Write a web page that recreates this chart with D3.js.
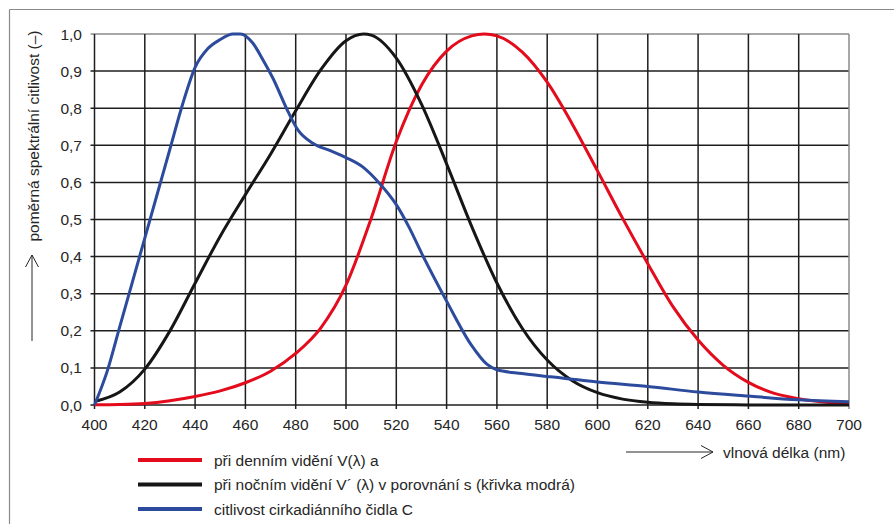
<!DOCTYPE html>
<html>
<head>
<meta charset="utf-8">
<script src="https://cdn.jsdelivr.net/npm/d3@7"></script>
<style>
  body { margin: 0; background: #fff; }
  svg { display: block; font-family: "Liberation Sans", Arial, sans-serif; }
</style>
</head>
<body>
<svg width="894" height="524"></svg>
<script>
// vlnové délky a hodnoty křivek
const redLambda = [400, 410, 420, 430, 440, 450, 460, 470, 480, 490, 500, 510, 520, 530, 540, 550, 555, 560, 570, 580, 590, 600, 610, 620, 630, 640, 650, 660, 670, 680, 690, 700];
const redValues = [0.0004, 0.0012, 0.004, 0.0116, 0.023, 0.038, 0.06, 0.091, 0.139, 0.208, 0.323, 0.503, 0.71, 0.862, 0.954, 0.995, 1.0, 0.995, 0.952, 0.87, 0.757, 0.631, 0.503, 0.381, 0.265, 0.175, 0.107, 0.061, 0.032, 0.017, 0.0082, 0.0041];

const blackLambda = [400, 410, 420, 430, 440, 450, 460, 470, 480, 490, 500, 507, 510, 520, 530, 540, 550, 560, 570, 580, 590, 600, 610, 620, 630, 640, 660, 680, 700];
const blackValues = [0.0093, 0.0348, 0.0966, 0.1998, 0.3281, 0.455, 0.567, 0.676, 0.793, 0.904, 0.982, 1.0, 0.997, 0.935, 0.811, 0.65, 0.481, 0.3288, 0.2076, 0.1212, 0.0655, 0.0332, 0.0159, 0.0074, 0.0033, 0.0015, 0.0003, 0.0001, 0.0];

const blueLambda = [400, 405, 410, 415, 420, 425, 430, 435, 440, 445, 450, 455, 458, 463, 467, 471, 477, 481, 487, 494, 500, 507, 513, 520, 525, 530, 540, 550, 556, 560, 570, 580, 600, 620, 640, 660, 680, 700];
const blueValues = [0.0, 0.09, 0.21, 0.33, 0.45, 0.57, 0.69, 0.81, 0.91, 0.96, 0.985, 1.0, 1.0, 0.975, 0.93, 0.88, 0.79, 0.74, 0.705, 0.685, 0.667, 0.64, 0.6, 0.54, 0.48, 0.41, 0.28, 0.16, 0.11, 0.095, 0.085, 0.077, 0.062, 0.05, 0.035, 0.024, 0.014, 0.009];

const xTicks = d3.range(400, 701, 20);
const yTicks = d3.range(0, 11).map(d => d / 10);

const legendLabels = [
    'při denním vidění V(λ) a',
    'při nočním vidění V´ (λ) v porovnání s (křivka modrá)',
    'citlivost cirkadiánního čidla C'
];

const redColor = '#e30b1c';
const blackColor = '#161616';
const blueColor = '#2d4b9c';
const fontSize = 15.5;

const svg = d3.select('svg');

// rámeček
svg.append('line').attr('x1', 9.5).attr('x2', 894).attr('y1', 9.5).attr('y2', 9.5)
    .attr('stroke', '#8a8a8a').attr('stroke-width', 1.2);
svg.append('line').attr('x1', 9.5).attr('x2', 9.5).attr('y1', 9.5).attr('y2', 524)
    .attr('stroke', '#8a8a8a').attr('stroke-width', 1.2);

const x = d3.scaleLinear().domain([400, 700]).range([94.5, 849]);
const y = d3.scaleLinear().domain([0, 1]).range([405, 34]);

const grid = svg.append('g');

// vodorovné čáry mřížky
grid.selectAll('line.h')
    .data(yTicks)
    .enter().append('line')
    .attr('class', 'h')
    .attr('x1', x(400) - 4)
    .attr('x2', x(700))
    .attr('y1', d => y(d))
    .attr('y2', d => y(d))
    .attr('stroke', d => d === 1 ? '#8a8a8a' : '#1e1e1e')
    .attr('stroke-width', 1.5);

// svislé čáry mřížky
grid.selectAll('line.v')
    .data(xTicks)
    .enter().append('line')
    .attr('class', 'v')
    .attr('x1', d => x(d))
    .attr('x2', d => x(d))
    .attr('y1', y(1))
    .attr('y2', y(0) + 4)
    .attr('stroke', d => d === 700 ? '#8a8a8a' : '#1e1e1e')
    .attr('stroke-width', 1.5);

// popisky os
svg.append('g').selectAll('text')
    .data(yTicks)
    .enter().append('text')
    .attr('x', 82)
    .attr('y', d => y(d) + 5.5)
    .attr('text-anchor', 'end')
    .attr('font-size', fontSize)
    .attr('fill', '#262626')
    .text(d => d.toFixed(1).replace('.', ','));

svg.append('g').selectAll('text')
    .data(xTicks)
    .enter().append('text')
    .attr('x', d => x(d))
    .attr('y', 430)
    .attr('text-anchor', 'middle')
    .attr('font-size', fontSize)
    .attr('fill', '#262626')
    .text(d => d);

// křivky
const series = [
    {lam: redLambda, val: redValues, color: redColor},
    {lam: blackLambda, val: blackValues, color: blackColor},
    {lam: blueLambda, val: blueValues, color: blueColor}
];

const line = d3.line()
    .x(d => x(d[0]))
    .y(d => y(d[1]))
    .curve(d3.curveMonotoneX);

series.forEach(s => {
    svg.append('path')
        .datum(s.lam.map((l, i) => [l, s.val[i]]))
        .attr('fill', 'none')
        .attr('stroke', s.color)
        .attr('stroke-width', 3)
        .attr('stroke-linejoin', 'round')
        .attr('d', line);
});

// popis osy Y se šipkou
svg.append('text')
    .attr('transform', 'translate(39,136) rotate(-90)')
    .attr('text-anchor', 'middle')
    .attr('font-size', fontSize)
    .attr('fill', '#262626')
    .text('poměrná spektrální citlivost (–)');
svg.append('path')
    .attr('d', 'M32,341 V255 M25.5,267 L32,255 L38.5,267')
    .attr('fill', 'none')
    .attr('stroke', '#262626')
    .attr('stroke-width', 1);

// popis osy X se šipkou
svg.append('path')
    .attr('d', 'M626,452 H713 M701,445.5 L713,452 L701,458.5')
    .attr('fill', 'none')
    .attr('stroke', '#262626')
    .attr('stroke-width', 1);
svg.append('text')
    .attr('x', 723)
    .attr('y', 458)
    .attr('font-size', fontSize)
    .attr('fill', '#262626')
    .text('vlnová délka (nm)');

// legenda
const legend = svg.append('g');
const legendColors = [redColor, blackColor, blueColor];
legendLabels.forEach((lab, i) => {
    const ly = 460 + i * 24.5;
    legend.append('line')
        .attr('x1', 138).attr('x2', 202)
        .attr('y1', ly).attr('y2', ly)
        .attr('stroke', legendColors[i])
        .attr('stroke-width', 4);
    legend.append('text')
        .attr('x', 214)
        .attr('y', ly + 5.5)
        .attr('font-size', fontSize)
        .attr('fill', '#262626')
        .text(lab);
});
</script>
</body>
</html>
